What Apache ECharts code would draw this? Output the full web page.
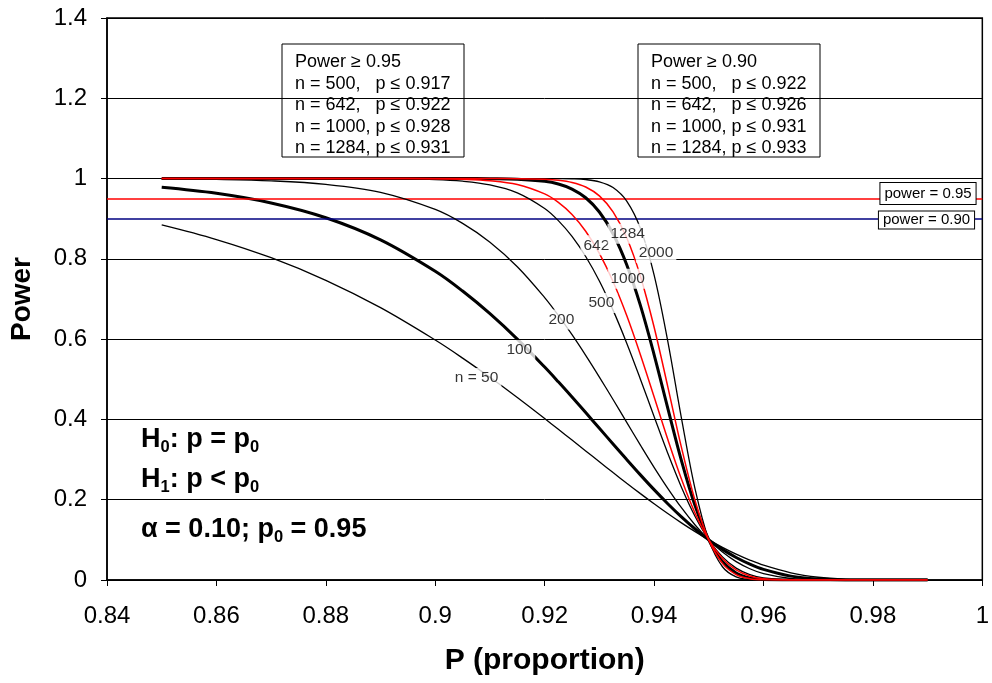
<!DOCTYPE html>
<html><head><meta charset="utf-8">
<script src="https://cdn.jsdelivr.net/npm/echarts@6.0.0/dist/echarts.min.js"></script>
<style>html,body{margin:0;padding:0;background:#fff}#c{width:992px;height:683px}</style>
</head><body><div id="c"></div>
<script>
// ---- data ----
const xs = [0.85,0.86,0.87,0.88,0.89,0.90,0.905,0.91,0.915,0.92,0.9225,0.925,0.9275,0.93,0.9325,0.935,0.9375,0.94,0.9425,0.945,0.9475,0.95,0.9525,0.955,0.9575,0.96,0.965,0.97,0.975,0.98,0.985,0.99];
const p50 = [0.8846,0.8482,0.8028,0.7466,0.6784,0.5977,0.5528,0.5049,0.4546,0.4022,0.3755,0.3486,0.3215,0.2945,0.2676,0.2412,0.2152,0.1899,0.1655,0.1423,0.1204,0.1000,0.0814,0.0645,0.0497,0.0370,0.0180,0.0068,0.0017,0.0002,0,0];
const p100 = [0.9782,0.9632,0.9392,0.9024,0.8473,0.7691,0.7198,0.6634,0.6001,0.5304,0.4936,0.4557,0.4171,0.3780,0.3388,0.3000,0.2619,0.2251,0.1901,0.1572,0.1271,0.1000,0.0763,0.0561,0.0395,0.0265,0.0097,0.0025,0.0003,0,0,0];
const p200 = [0.9993,0.9979,0.9944,0.9856,0.9656,0.9231,0.8884,0.8415,0.7804,0.7035,0.6591,0.6111,0.5596,0.5055,0.4496,0.3926,0.3360,0.2807,0.2284,0.1801,0.1371,0.1000,0.0695,0.0457,0.0280,0.0159,0.0037,0.0005,0,0,0,0];
const p500 = [1,1,1,1,0.9997,0.9974,0.9934,0.9842,0.9644,0.9255,0.8953,0.8559,0.8059,0.7448,0.6723,0.5900,0.5003,0.4073,0.3158,0.2312,0.1583,0.1000,0.0575,0.0296,0.0134,0.0051,0.0004,0,0,0,0,0];
const p642 = [1,1,1,1,1,0.9995,0.9983,0.9948,0.9853,0.9618,0.9408,0.9107,0.8689,0.8137,0.7435,0.6587,0.5614,0.4566,0.3506,0.2516,0.1664,0.1000,0.0536,0.0251,0.0100,0.0033,0.0002,0,0,0,0,0];
const p1000 = [1,1,1,1,1,1,1,0.9997,0.9985,0.9932,0.9864,0.9739,0.9522,0.9168,0.8627,0.7855,0.6841,0.5617,0.4283,0.2975,0.1847,0.1000,0.0460,0.0174,0.0052,0.0012,0,0,0,0,0,0];
const p1284 = [1,1,1,1,1,1,1,1,0.9998,0.9983,0.9959,0.9904,0.9789,0.9568,0.9171,0.8525,0.7569,0.6303,0.4819,0.3303,0.1975,0.1000,0.0414,0.0135,0.0033,0.0006,0,0,0,0,0,0];
const p2000 = [1,1,1,1,1,1,1,1,1,1,0.9998,0.9993,0.9975,0.9920,0.9776,0.9439,0.8760,0.7602,0.5952,0.4035,0.2263,0.1000,0.0330,0.0076,0.0012,0.0001,0,0,0,0,0,0];
const curveNames = ['n = 50','100','200','500','642','1000','1284','2000'];
const powerLevels = [0.95, 0.90];
const powerLevelLabels = ['power = 0.95','power = 0.90'];
const box95Lines = ['Power \u2265 0.95','n = 500,   p \u2264 0.917','n = 642,   p \u2264 0.922','n = 1000, p \u2264 0.928','n = 1284, p \u2264 0.931'];
const box90Lines = ['Power \u2265 0.90','n = 500,   p \u2264 0.922','n = 642,   p \u2264 0.926','n = 1000, p \u2264 0.931','n = 1284, p \u2264 0.933'];
const xMin = 0.84, xMax = 1, xStep = 0.02;
const yMin = 0, yMax = 1.4, yStep = 0.2;

// ---- presentation ----
const FONT = '"Liberation Sans", Arial, sans-serif';
const curves = [
  {name:curveNames[0], ys:p50, color:'#000', width:1.3, li:6, off:[14,20]},
  {name:curveNames[1], ys:p100, color:'#000', width:3, li:8, off:[2,11]},
  {name:curveNames[2], ys:p200, color:'#000', width:1.3, li:10, off:[3,4]},
  {name:curveNames[3], ys:p500, color:'#000', width:1.3, li:13, off:[2,22]},
  {name:curveNames[5], ys:p1000, color:'#000', width:3, li:15, off:[1,14]},
  {name:curveNames[7], ys:p2000, color:'#000', width:1.3, li:17, off:[2,-22]},
  {name:curveNames[4], ys:p642, color:'#ff0000', width:1.5, li:13, off:[-3,-8]},
  {name:curveNames[6], ys:p1284, color:'#ff0000', width:1.5, li:15, off:[1,-4]}
];

const series = curves.map((c, k) => ({
  type:'line', name:c.name, silent:true, showSymbol:false, smooth:0.35,
  data: xs.map((x,i)=>[x, c.ys[i]]),
  lineStyle:{color:c.color, width:c.width}, z: 3 + k
}));
series.unshift({
  type:'line', data:[], silent:true, z:2,
  markLine:{silent:true, symbol:'none', label:{show:false},
    data: powerLevels.map((v,i)=>({yAxis:v, lineStyle:{color: i===0?'#ff0000':'#000080', width:1.5, type:'solid'}}))}
});
series.push({
  type:'scatter', silent:true, z:30, symbolSize:0,
  data: curves.map(c => ({
    value:[xs[c.li], c.ys[c.li]], name:c.name,
    label:{show:true, position:'inside', offset:c.off, formatter:c.name,
      fontFamily:FONT, fontSize:15.5, color:'#000', backgroundColor:'#fff', padding:[2,3]}
  }))
});

function boxGraphic(x, lines){
  return {type:'group', z:40, children:[
    {type:'rect', shape:{x:x, y:44, width:182, height:113}, style:{fill:'#fff', stroke:'#000', lineWidth:1}},
    {type:'text', style:{x:x+13, y:51.5, text:lines.join('\n'), font:'18px '+FONT, lineHeight:21.5, fill:'#000'}}
  ]};
}
const hStyle = {
  b:{fontFamily:FONT, fontWeight:'bold', fontSize:27, lineHeight:31, fill:'#000'},
  s:{fontFamily:FONT, fontWeight:'bold', fontSize:16.5, lineHeight:31, verticalAlign:'bottom', padding:[8,0,0,0], fill:'#000'}
};

const chart = echarts.init(document.getElementById('c'), null, {renderer:'canvas'});
chart.setOption({
  animation:false,
  backgroundColor:'#fff',
  grid:{left:105, right:6, top:18, bottom:103, show:true, borderColor:'#000', borderWidth:1.5, backgroundColor:'transparent'},
  xAxis:{type:'value', min:xMin, max:xMax, interval:xStep,
    axisLine:{show:true, onZero:false, lineStyle:{color:'#000', width:1.5}},
    axisTick:{show:true, length:6, lineStyle:{color:'#000', width:1}},
    splitLine:{show:false},
    axisLabel:{fontFamily:FONT, fontSize:24, color:'#000', margin:24, formatter:v=>String(+v.toFixed(2))},
    name:'P (proportion)', nameLocation:'middle', nameGap:66,
    nameTextStyle:{fontFamily:FONT, fontWeight:'bold', fontSize:30, color:'#000'}},
  yAxis:{type:'value', min:yMin, max:yMax, interval:yStep,
    axisLine:{show:true, lineStyle:{color:'#000', width:1.5}},
    axisTick:{show:true, length:6, lineStyle:{color:'#000', width:1}},
    splitLine:{show:true, lineStyle:{color:'#000', width:1}},
    axisLabel:{fontFamily:FONT, fontSize:24, color:'#000', margin:20, formatter:v=>String(+v.toFixed(1))},
    name:'Power', nameLocation:'middle', nameGap:71, nameRotate:90,
    nameTextStyle:{fontFamily:FONT, fontWeight:'bold', fontSize:28, color:'#000'}},
  series: series,
  graphic:[
    boxGraphic(282, box95Lines),
    boxGraphic(638, box90Lines),
    {type:'text', z:40, style:{x:928, y:193.5, text:powerLevelLabels[0], align:'center', verticalAlign:'middle',
      font:'15px '+FONT, fill:'#000', backgroundColor:'#fff', borderColor:'#000', borderWidth:1, padding:[3,4]}},
    {type:'text', z:40, style:{x:926.5, y:220, text:powerLevelLabels[1], align:'center', verticalAlign:'middle',
      font:'15px '+FONT, fill:'#000', backgroundColor:'#fff', borderColor:'#000', borderWidth:1, padding:[1,4]}},
    {type:'text', z:40, style:{x:141, y:440, verticalAlign:'middle', text:'{b|H}{s|0}{b|: p = p}{s|0}', rich:hStyle}},
    {type:'text', z:40, style:{x:141, y:480, verticalAlign:'middle', text:'{b|H}{s|1}{b|: p < p}{s|0}', rich:hStyle}},
    {type:'text', z:40, style:{x:141, y:530, verticalAlign:'middle', text:'{b|\u03b1 = 0.10; p}{s|0}{b| = 0.95}', rich:hStyle}}
  ]
});
</script></body></html>
